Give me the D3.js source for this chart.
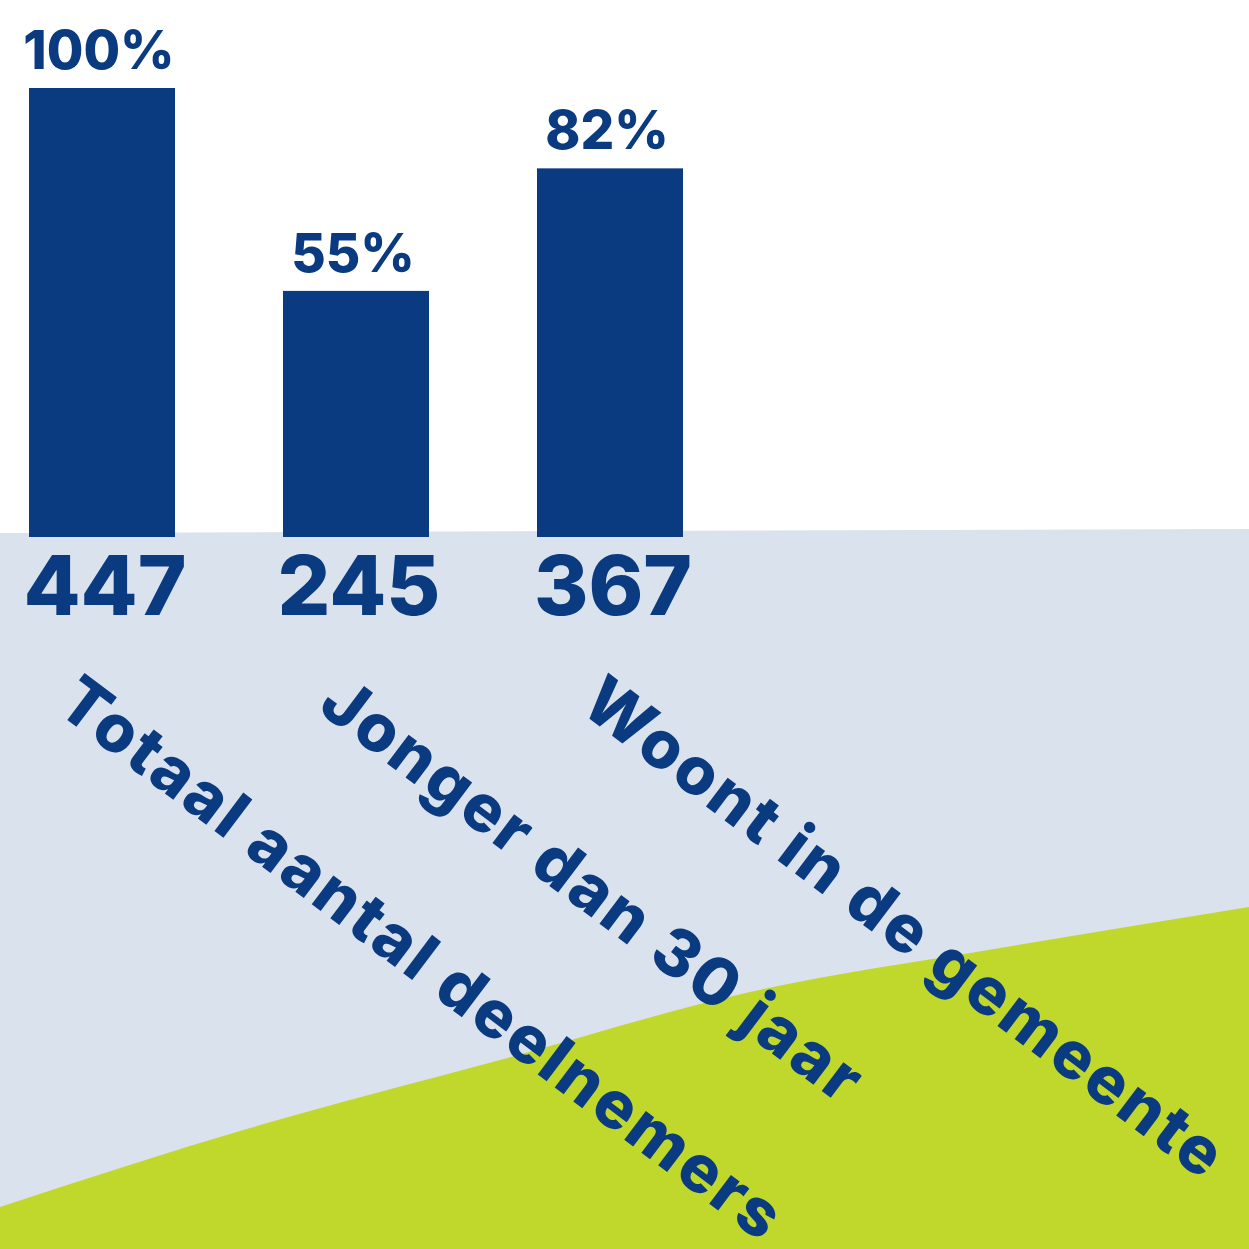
<!DOCTYPE html>
<html>
<head>
<meta charset="utf-8">
<script src="https://cdn.jsdelivr.net/npm/d3@7"></script>
<style>
  html, body { margin: 0; padding: 0; background: #ffffff; }
  svg { display: block; }
  text { font-family: Inter, "Noto Sans", sans-serif; font-weight: 800; }
</style>
</head>
<body>
<svg id="chart" width="1249" height="1249"></svg>
<script>
// ---- data ----
const categories = ["Totaal aantal deelnemers", "Jonger dan 30 jaar", "Woont in de gemeente"];
const counts = [447, 245, 367];
const percentLabels = ["100%", "55%", "82%"];

// decorative background bands (x, y)
const bandTop = [[0, 533], [1249, 529]];
const greenEdge = [[0, 1207], [250, 1128], [500, 1060], [750, 992], [1000, 948], [1249, 907]];

const W = 1249, H = 1249;
const navy = "#0a3a80", light = "#dae2ee", green = "#c0d72c";

const svg = d3.select("#chart");

// background
svg.append("rect").attr("width", W).attr("height", H).attr("fill", "#ffffff");
const lineGen = d3.line().curve(d3.curveMonotoneX);
svg.append("path")
  .attr("d", "M" + bandTop.map(p => p.join(",")).join("L") + `L${W},${H}L0,${H}Z`)
  .attr("fill", light);
svg.append("path")
  .attr("d", lineGen(greenEdge) + `L${W},${H}L0,${H}Z`)
  .attr("fill", green);

// scales
const baseY = 537;
const xb = d3.scaleOrdinal().domain(categories).range(categories.map((c, i) => 29 + i * 254));
const barW = 146;
const y = d3.scaleLinear().domain([0, 447]).range([baseY, 88]);

// bars
svg.selectAll("rect.bar").data(categories).join("rect")
  .attr("class", "bar")
  .attr("x", d => xb(d))
  .attr("y", (d, i) => y(counts[i]))
  .attr("width", barW)
  .attr("height", (d, i) => baseY - y(counts[i]))
  .attr("fill", navy);

// percent labels
svg.selectAll("text.pct").data(categories).join("text")
  .attr("class", "pct")
  .attr("x", d => xb(d) + barW / 2 - 3)
  .attr("y", (d, i) => y(counts[i]) - 19)
  .attr("text-anchor", "middle")
  .attr("font-size", 53)
  .attr("fill", navy)
  .text((d, i) => percentLabels[i]);

// count labels
svg.selectAll("text.cnt").data(categories).join("text")
  .attr("class", "cnt")
  .attr("x", d => xb(d) + barW / 2 + 3)
  .attr("y", 615)
  .attr("text-anchor", "middle")
  .attr("font-size", 83)
  .attr("fill", navy)
  .text((d, i) => d3.format("d")(counts[i]));

// rotated category labels
const cats = svg.selectAll("text.cat").data(categories).join("text")
  .attr("class", "cat")
  .attr("transform", (d, i) => `translate(${xb(d) + 25 + i * 8},710) rotate(37)`)
  .attr("font-size", 66)
  .attr("fill", navy)
  .text(d => d);

// widen spacing so the first label spans the same length as in the picture
const first = cats.node();
const len0 = first.getComputedTextLength();
const target = 885;
const ls = Math.max(0, (target - len0) / (categories[0].length - 1));
cats.attr("letter-spacing", ls.toFixed(2));
</script>
</body>
</html>
